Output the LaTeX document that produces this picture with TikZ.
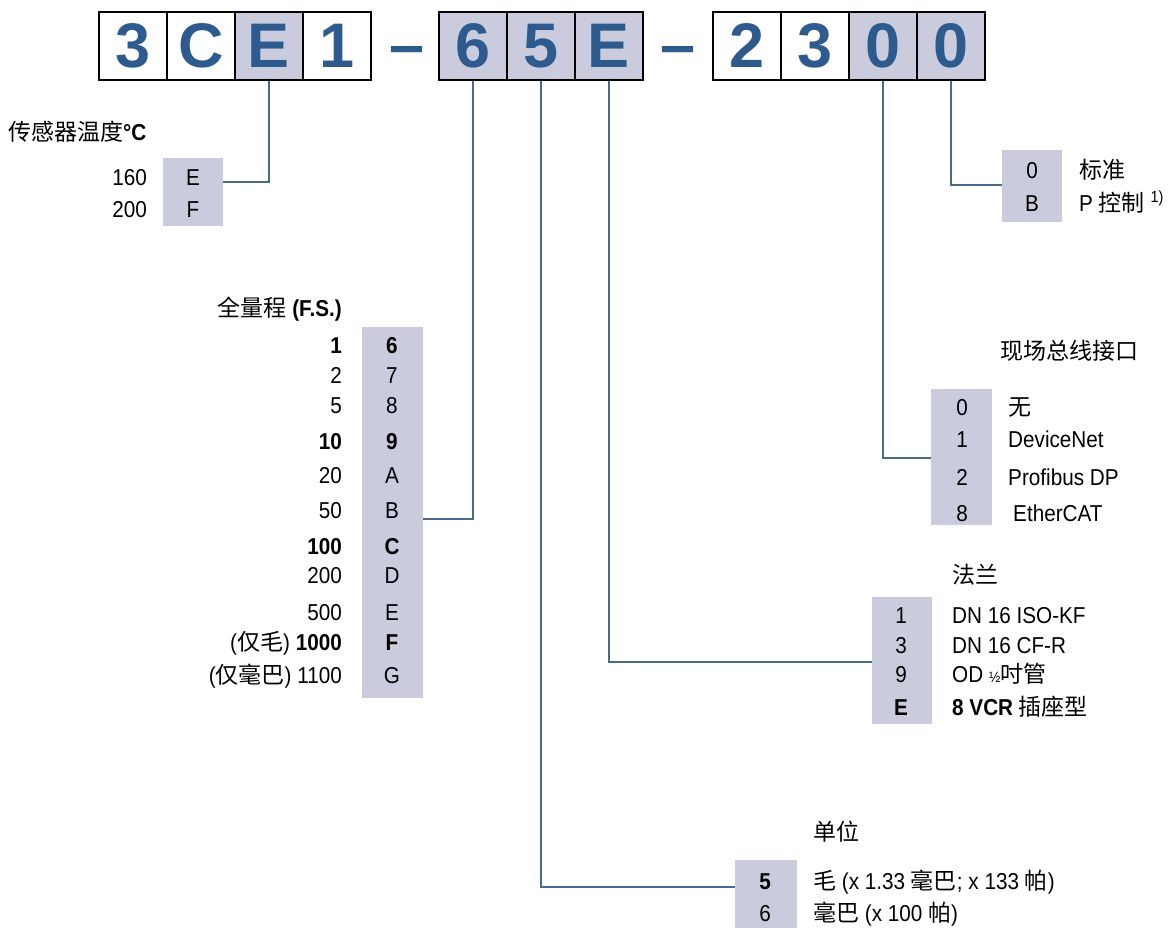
\documentclass[tikz,border=0pt]{standalone}
\usepackage{fontspec}
\setmainfont{Liberation Sans}[FakeStretch=0.9]
\newfontfamily\cjk{Noto Sans CJK SC}
\newfontfamily\codefont{Liberation Sans}
\definecolor{shade}{HTML}{CACBDC}
\definecolor{codeblue}{HTML}{2D5B8E}
\definecolor{wire}{HTML}{4A6A8C}
\newcommand\rowfont{\fontsize{23}{26}\selectfont}
\newcommand\hdfont{\fontsize{23}{26}\selectfont}
\tikzset{
  cell/.style={draw=black, line width=2.4pt, minimum width=68, minimum height=68,
    inner sep=0pt, text=codeblue, font={\codefont\bfseries\fontsize{63}{63}\selectfont}},
  greycell/.style={cell, fill=shade},
  dashsign/.style={text=codeblue, inner sep=0pt, font={\codefont\bfseries\fontsize{63}{63}\selectfont}},
  codebox/.style={fill=shade, inner sep=0pt},
  txt/.style={inner sep=0pt, text height=17, text depth=0, font=\rowfont},
  lab/.style={txt, anchor=east},
  val/.style={txt},
  desc/.style={txt, anchor=west},
  head/.style={txt, font=\hdfont},
  conn/.style={draw=wire, line width=1.4pt},
}
\begin{document}
\begin{tikzpicture}[x=1pt, y=-1pt]
\useasboundingbox (0,0) rectangle (1171,928);
% code 3CE1-65E-2300
\node[cell] (a1) at (133,46) {3};
\node[cell] (a2) at (201,46) {C};
\node[greycell] (a3) at (269,46) {E};
\node[cell] (a4) at (337,46) {1};
\node[dashsign, anchor=base] (m1) at (407.5,67) {–};
\node[greycell] (b1) at (473,46) {6};
\node[greycell] (b2) at (541,46) {5};
\node[greycell] (b3) at (609,46) {E};
\node[dashsign, anchor=base] (m2) at (678.5,67) {–};
\node[cell] (c1) at (747,46) {2};
\node[cell] (c2) at (815,46) {3};
\node[greycell] (c3) at (883,46) {0};
\node[greycell] (c4) at (951,46) {0};
% sensor temperature
\node[head, anchor=west] (th) at (8,132) {{\cjk 传感器温度}\textbf{°C}};
\node[codebox, minimum width=60, minimum height=68] (tbox) at (193,192) {};
\node[lab] (t1) at (147,177) {160};
\node[val] (te) at (193,177) {E};
\node[lab] (t2) at (147,209) {200};
\node[val] (tf) at (193,209) {F};
\coordinate (tin) at (223,182);
\draw[conn] (a3.south) |- (tin);
% full scale
\node[head, anchor=east] (fh) at (342,308) {{\cjk 全量程} \textbf{(F.S.)}};
\node[codebox, minimum width=61, minimum height=371] (fbox) at (392.5,512.5) {};
\node[lab] (fs1) at (342,345) {\textbf{1}};   \node[val] (fc1) at (392,345) {\textbf{6}};
\node[lab] (fs2) at (342,375) {2};            \node[val] (fc2) at (392,375) {7};
\node[lab] (fs3) at (342,405) {5};            \node[val] (fc3) at (392,405) {8};
\node[lab] (fs4) at (342,441) {\textbf{10}};  \node[val] (fc4) at (392,441) {\textbf{9}};
\node[lab] (fs5) at (342,475) {20};           \node[val] (fc5) at (392,475) {A};
\node[lab] (fs6) at (342,510) {50};           \node[val] (fc6) at (392,510) {B};
\node[lab] (fs7) at (342,546) {\textbf{100}}; \node[val] (fc7) at (392,546) {\textbf{C}};
\node[lab] (fs8) at (342,575) {200};          \node[val] (fc8) at (392,575) {D};
\node[lab] (fs9) at (342,612) {500};          \node[val] (fc9) at (392,612) {E};
\node[lab] (fs10) at (342,642) {({\cjk 仅毛}) \textbf{1000}}; \node[val] (fc10) at (392,642) {\textbf{F}};
\node[lab] (fs11) at (342,675) {({\cjk 仅毫巴}) 1100};        \node[val] (fc11) at (392,675) {G};
\coordinate (fin) at (423,519);
\draw[conn] (b1.south) |- (fin);
% unit
\node[head, anchor=west] (uh) at (813,832) {\cjk 单位};
\node[codebox, minimum width=62, minimum height=68] (ubox) at (766,894) {};
\node[val] (u5) at (765,881) {\textbf{5}};
\node[desc] (ud5) at (813,881) {{\cjk 毛} (x 1.33 {\cjk 毫巴}; x 133 {\cjk 帕})};
\node[val] (u6) at (765,913) {6};
\node[desc] (ud6) at (813,913) {{\cjk 毫巴} (x 100 {\cjk 帕})};
\coordinate (uin) at (735,887);
\draw[conn] (b2.south) |- (uin);
% flange
\node[head, anchor=west] (lh) at (952,575) {\cjk 法兰};
\node[codebox, minimum width=60, minimum height=127] (lbox) at (902,660.5) {};
\node[val] (l1) at (901,615) {1};
\node[desc] (ld1) at (952,615) {DN 16 ISO-KF};
\node[val] (l3) at (901,645) {3};
\node[desc] (ld3) at (952,645) {DN 16 CF-R};
\node[val] (l9) at (901,674) {9};
\node[desc] (ld9) at (952,674) {OD {\fontsize{15}{15}\selectfont ½}{\cjk 吋管}};
\node[val] (le) at (901,707) {\textbf{E}};
\node[desc] (lde) at (952,707) {\textbf{8 VCR} {\cjk 插座型}};
\coordinate (lin) at (872,662);
\draw[conn] (b3.south) |- (lin);
% fieldbus
\node[head, anchor=west] (bh) at (1000,351) {\cjk 现场总线接口};
\node[codebox, minimum width=61, minimum height=136] (bbox) at (961.5,457) {};
\node[val] (n0) at (962,407) {0};
\node[desc] (nd0) at (1008,407) {\cjk 无};
\node[val] (n1) at (962,439) {1};
\node[desc] (nd1) at (1008,439) {DeviceNet};
\node[val] (n2) at (962,477) {2};
\node[desc] (nd2) at (1008,477) {Profibus DP};
\node[val] (n8) at (962,513) {8};
\node[desc] (nd8) at (1013,513) {EtherCAT};
\coordinate (bin) at (931,458);
\draw[conn] (c3.south) |- (bin);
% control
\node[codebox, minimum width=60, minimum height=72] (pbox) at (1032,186) {};
\node[val] (p0) at (1032,170) {0};
\node[desc] (pd0) at (1079,170) {\cjk 标准};
\node[val] (pb) at (1032,203) {B};
\node[desc] (pdb) at (1079,203) {P {\cjk 控制} \textsuperscript{1)}};
\coordinate (pin) at (1002,185);
\draw[conn] (c4.south) |- (pin);
\end{tikzpicture}
\end{document}
